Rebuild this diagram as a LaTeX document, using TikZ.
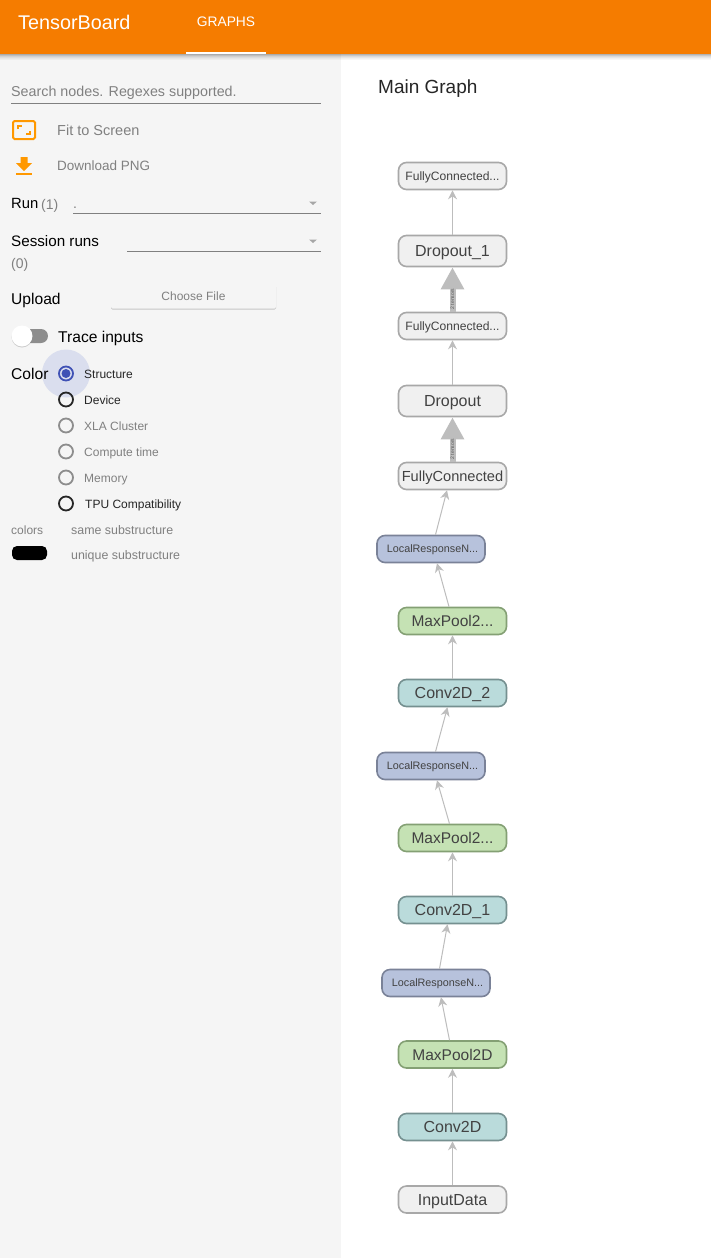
\documentclass[tikz,border=0pt]{standalone}
\usepackage{fontspec}
\setmainfont{Liberation Sans}
\usetikzlibrary{arrows.meta,calc,shadows}
\definecolor{tbor}{HTML}{F57C00}
\definecolor{side}{HTML}{F5F5F5}
\definecolor{gfill}{HTML}{F0F0F0}
\definecolor{gline}{HTML}{A8A8A8}
\definecolor{lrnf}{HTML}{B7C2DC}
\definecolor{lrnl}{HTML}{7A8298}
\definecolor{mpf}{HTML}{C5E2B4}
\definecolor{mpl}{HTML}{84A074}
\definecolor{cvf}{HTML}{BADBDB}
\definecolor{cvl}{HTML}{759090}
\definecolor{edgec}{HTML}{BDBDBD}
\definecolor{gtxt}{HTML}{808080}
\definecolor{ink}{HTML}{424242}
\definecolor{icon}{HTML}{FF9800}
\definecolor{indigo}{HTML}{3F51B5}
\definecolor{halocol}{HTML}{DADEEE}
\tikzset{
 px/.style={x=1pt,y=-1pt},
 fs/.style={font=\fontsize{#1}{#1}\selectfont,text height=0.72*#1 pt,text depth=0pt},
 opnode/.style={draw,fs=16,rounded corners=8pt,line width=1.6pt,minimum width=108pt,minimum height=27pt,inner sep=0pt,text=ink},
 smallt/.style={fs=12.1},
 tinyt/.style={fs=10.8},
 plain/.style={opnode,fill=gfill,draw=gline},
 lrn/.style={opnode,fill=lrnf,draw=lrnl},
 mp/.style={opnode,fill=mpf,draw=mpl},
 cv/.style={opnode,fill=cvf,draw=cvl},
 thin edge/.style={draw=edgec,line width=1pt,-{Stealth[length=9pt,width=9pt,fill=edgec]}},
 thick edge/.style={draw=edgec,line width=6pt,-{Triangle[length=22pt,width=22pt,fill=edgec]}},
 lbl/.style={anchor=west,inner sep=0pt,text=black,fs=15.6},
 glbl/.style={anchor=west,inner sep=0pt,text=gtxt,fs=14},
 rlbl/.style={anchor=west,inner sep=0pt,fs=12},
 ul/.style={draw=gtxt,line width=1pt},
 radio on/.style={circle,draw=black!85,line width=1.8pt,minimum size=14pt,inner sep=0pt},
 radio off/.style={circle,draw=gtxt!90,line width=1.8pt,minimum size=14pt,inner sep=0pt},
 caret/.style={fill=gtxt!70,draw=none},
}
\begin{document}
\begin{tikzpicture}[px]
\useasboundingbox (0,0) rectangle (711,1258);
\fill[white] (0,0) rectangle (711,1258);
\fill[side] (0,54) rectangle (341,1258);
% header shadow
\foreach \i/\o in {0/.30,1/.22,2/.15,3/.10,4/.06,5/.03}{
  \fill[black,opacity=\o] (0,54+\i) rectangle (711,55+\i);
}
\fill[tbor] (0,0) rectangle (711,54);
\fill[white] (186,52) rectangle (266,54);
\node[anchor=west,inner sep=0pt,text=white,fs=19.8] (title) at (18,22) {TensorBoard};
\node[inner sep=0pt,text=white,fs=13.8] (tab) at (226,22) {GRAPHS};
% search
\node[glbl,fs=14.3] (search) at (11,91) {Search nodes. Regexes supported.};
\draw[ul] (11,103.5) -- (321,103.5);
% fit icon
\draw[draw=icon,line width=2pt,rounded corners=1.5pt] (13,121) rectangle (35,139);
\draw[draw=icon,line width=1.6pt] (18,129) -- (18,126) -- (22,126);
\draw[draw=icon,line width=1.6pt] (26,134) -- (30,134) -- (30,131);
\node[glbl,fs=14.5] (fit) at (57,130) {Fit to Screen};
% download icon
\fill[icon] (20.5,157) -- (27.5,157) -- (27.5,163) -- (32,163) -- (24,171) -- (16,163) -- (20.5,163) -- cycle;
\fill[icon] (16,173) rectangle (32,175);
\node[glbl,fs=13.5] (dl) at (57,166) {Download PNG};
% run
\node[lbl,fs=14.8] (run) at (11,203) {Run};
\node[glbl] (runn) at (41,204) {(1)};
\node[glbl] (dot) at (73,203) {.};
\draw[ul] (73,213) -- (321,213);
\fill[caret] (309,201.5) -- (317,201.5) -- (313,205) -- cycle;
% session
\node[lbl,fs=15.2] (sess) at (11,241) {Session runs};
\node[glbl] (sessn) at (11,263) {(0)};
\draw[ul] (127,251) -- (321,251);
\fill[caret] (309,239.5) -- (317,239.5) -- (313,243) -- cycle;
% upload
\node[lbl] (up) at (11,298.5) {Upload};
\node[fs=12,draw=none,fill=side,rounded corners=1.5pt,minimum width=165pt,minimum height=24pt,inner sep=0pt,text=gtxt,
  drop shadow={shadow xshift=0pt,shadow yshift=-1.2pt,opacity=.4}] (btn) at (193.5,296.5) {Choose File};
% toggle
\fill[gtxt!90,rounded corners=7pt] (14,329) rectangle (48,343);
\node[circle,fill=white,minimum size=21pt,inner sep=0pt,drop shadow={shadow xshift=0pt,shadow yshift=-1pt,opacity=.35}] (knob) at (22,336) {};
\node[lbl] (trace) at (58,337) {Trace inputs};
% color
\node[circle,fill=halocol,minimum size=48pt,inner sep=0pt] (halo) at (66,373.5) {};
\node[lbl] (colorl) at (11,373.5) {Color};
\node[radio on,draw=indigo] (r1) at (66,373.5) {};
\fill[indigo] (r1.center) circle (4.5pt);
\node[rlbl,text=black!85] at (84,374) (t1) {Structure};
\node[radio on] (r2) at (66,399.5) {};
\node[rlbl,text=black!85] at (84,400) (t2) {Device};
\node[radio off] (r3) at (66,425.5) {};
\node[rlbl,text=gtxt] at (84,426) (t3) {XLA Cluster};
\node[radio off] (r4) at (66,451.5) {};
\node[rlbl,text=gtxt] at (84,452) (t4) {Compute time};
\node[radio off] (r5) at (66,477.5) {};
\node[rlbl,text=gtxt] at (84,478) (t5) {Memory};
\node[radio on] (r6) at (66,503.5) {};
\node[rlbl,text=black!85] at (85,504) (t6) {TPU Compatibility};
\node[rlbl,text=gtxt] at (11,530) (c1) {colors};
\node[rlbl,text=gtxt,fs=12.4] at (71,530) (c2) {same substructure};
\node[rlbl,text=gtxt,fs=12.4] at (71,555) (c3) {unique substructure};
\fill[black,rounded corners=5pt] (12,546) rectangle (47,560);
% main graph
\node[anchor=west,inner sep=0pt,text=black!85,fs=19] (mg) at (378,87) {Main Graph};
% nodes
\node[plain,smallt] (fc2) at (452.5,176) {FullyConnected...};
\node[plain,minimum height=31pt] (do1) at (452.5,251) {Dropout\_1};
\node[plain,smallt] (fc1) at (452.5,326) {FullyConnected...};
\node[plain,minimum height=31pt] (do0) at (452.5,401) {Dropout};
\node[plain,fs=14.6] (fc0) at (452.5,476) {FullyConnected};
\node[lrn,tinyt] (lr3) at (431,549) {\kern3pt LocalResponseN...};
\node[mp,fs=15.5] (mp3) at (452.5,621) {MaxPool2...};
\node[cv] (cv3) at (452.5,693) {Conv2D\_2};
\node[lrn,tinyt] (lr2) at (431,766) {\kern3pt LocalResponseN...};
\node[mp,fs=15.5] (mp2) at (452.5,838) {MaxPool2...};
\node[cv] (cv2) at (452.5,910) {Conv2D\_1};
\node[lrn,tinyt] (lr1) at (436,983) {\kern3pt LocalResponseN...};
\node[mp,fs=15.5] (mp1) at (452.5,1054.5) {MaxPool2D};
\node[cv] (cv1) at (452.5,1127) {Conv2D};
\node[plain] (inp) at (452.5,1199.5) {InputData};
% edges
\draw[thin edge] (inp.north) -- (cv1.south);
\draw[thin edge] (cv1.north) -- (mp1.south);
\draw[thin edge] ([xshift=-3pt]mp1.north) -- ([xshift=5pt]lr1.south);
\draw[thin edge] ([xshift=3.5pt]lr1.north) -- ([xshift=-5pt]cv2.south);
\draw[thin edge] (cv2.north) -- (mp2.south);
\draw[thin edge] ([xshift=-3pt]mp2.north) -- ([xshift=6pt]lr2.south);
\draw[thin edge] ([xshift=4.5pt]lr2.north) -- ([xshift=-5pt]cv3.south);
\draw[thin edge] (cv3.north) -- (mp3.south);
\draw[thin edge] ([xshift=-3.5pt]mp3.north) -- ([xshift=6pt]lr3.south);
\draw[thin edge] ([xshift=4.5pt]lr3.north) -- ([xshift=-5.5pt]fc0.south);
\draw[thin edge] (do0.north) -- (fc1.south);
\draw[thin edge] (do1.north) -- (fc2.south);
\draw[thick edge] (fc0.north) -- (do0.south);
\draw[thick edge] (fc1.north) -- (do1.south);
\node[rotate=90,inner sep=0pt,text=gtxt!70!black,font=\fontsize{5}{5}\selectfont] (e1) at (452.5,449) {2 tensors};
\node[rotate=90,inner sep=0pt,text=gtxt!70!black,font=\fontsize{5}{5}\selectfont] (e2) at (452.5,299) {2 tensors};
\end{tikzpicture}
\end{document}
